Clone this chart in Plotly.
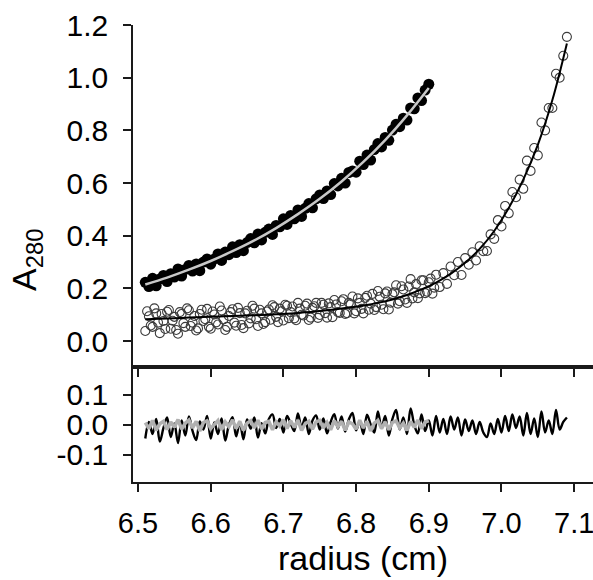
import plotly.graph_objects as go

# filled circles (first sample) and its fit
x_filled = [6.510, 6.515, 6.520, 6.525, 6.530, 6.535, 6.540, 6.545, 6.550, 6.555,
            6.560, 6.565, 6.570, 6.575, 6.580, 6.585, 6.590, 6.595, 6.600, 6.605,
            6.610, 6.615, 6.620, 6.625, 6.630, 6.635, 6.640, 6.645, 6.650, 6.655,
            6.660, 6.665, 6.670, 6.675, 6.680, 6.685, 6.690, 6.695, 6.700, 6.705,
            6.710, 6.715, 6.720, 6.725, 6.730, 6.735, 6.740, 6.745, 6.750, 6.755,
            6.760, 6.765, 6.770, 6.775, 6.780, 6.785, 6.790, 6.795, 6.800, 6.805,
            6.810, 6.815, 6.820, 6.825, 6.830, 6.835, 6.840, 6.845, 6.850, 6.855,
            6.860, 6.865, 6.870, 6.875, 6.880, 6.885, 6.890, 6.895, 6.900]
y_filled = [0.223, 0.207, 0.238, 0.210, 0.236, 0.249, 0.226, 0.256, 0.243, 0.274,
            0.247, 0.272, 0.287, 0.266, 0.293, 0.267, 0.300, 0.312, 0.292, 0.312,
            0.331, 0.306, 0.338, 0.328, 0.358, 0.336, 0.366, 0.343, 0.374, 0.389,
            0.373, 0.406, 0.384, 0.413, 0.425, 0.405, 0.439, 0.434, 0.464, 0.443,
            0.477, 0.464, 0.498, 0.473, 0.504, 0.522, 0.506, 0.540, 0.555, 0.541,
            0.570, 0.556, 0.598, 0.589, 0.618, 0.600, 0.640, 0.646, 0.641, 0.683,
            0.670, 0.706, 0.687, 0.727, 0.750, 0.737, 0.773, 0.762, 0.801, 0.823,
            0.814, 0.846, 0.839, 0.885, 0.882, 0.923, 0.913, 0.953, 0.975]
res_filled = [0.008, -0.012, 0.015, -0.018, 0.004, 0.012, -0.015, 0.010, -0.008, 0.018,
              -0.014, 0.006, 0.016, -0.010, 0.012, -0.020, 0.008, 0.014, -0.012, 0.002,
              0.015, -0.016, 0.010, -0.006, 0.017, -0.012, 0.012, -0.018, 0.006, 0.014,
              -0.010, 0.016, -0.014, 0.008, 0.012, -0.016, 0.010, -0.004, 0.018, -0.012,
              0.014, -0.008, 0.016, -0.018, 0.004, 0.012, -0.014, 0.010, 0.015, -0.010,
              0.008, -0.016, 0.014, -0.006, 0.012, -0.018, 0.010, 0.004, -0.014, 0.016,
              -0.010, 0.012, -0.020, 0.006, 0.015, -0.012, 0.010, -0.016, 0.008, 0.014,
              -0.010, 0.006, -0.018, 0.012, -0.008, 0.016, -0.012, 0.010, 0.014]
fit_filled_x = [6.51, 6.54, 6.57, 6.60, 6.63, 6.66, 6.69, 6.72, 6.75, 6.78, 6.81, 6.84, 6.87, 6.90]
fit_filled_y = [0.215, 0.241, 0.271, 0.304, 0.341, 0.382, 0.429, 0.482, 0.540, 0.606, 0.680, 0.763, 0.857, 0.961]

# open circles (second sample) and its fit
x_open = [6.510, 6.515, 6.520, 6.525, 6.530, 6.535, 6.540, 6.545, 6.550, 6.555,
          6.560, 6.565, 6.570, 6.575, 6.580, 6.585, 6.590, 6.595, 6.600, 6.605,
          6.610, 6.615, 6.620, 6.625, 6.630, 6.635, 6.640, 6.645, 6.650, 6.655,
          6.660, 6.665, 6.670, 6.675, 6.680, 6.685, 6.690, 6.695, 6.700, 6.705,
          6.710, 6.715, 6.720, 6.725, 6.730, 6.735, 6.740, 6.745, 6.750, 6.755,
          6.760, 6.765, 6.770, 6.775, 6.780, 6.785, 6.790, 6.795, 6.800, 6.805,
          6.810, 6.815, 6.820, 6.825, 6.830, 6.835, 6.840, 6.845, 6.850, 6.855,
          6.860, 6.865, 6.870, 6.875, 6.880, 6.885, 6.890, 6.895, 6.900, 6.905,
          6.910, 6.915, 6.920, 6.925, 6.930, 6.935, 6.940, 6.945, 6.950, 6.955,
          6.960, 6.965, 6.970, 6.975, 6.980, 6.985, 6.990, 6.995, 7.000, 7.005,
          7.010, 7.015, 7.020, 7.025, 7.030, 7.035, 7.040, 7.045, 7.050, 7.055,
          7.060, 7.065, 7.070, 7.075, 7.080, 7.085, 7.090]
y_open = [0.038, 0.094, 0.054, 0.105, 0.030, 0.076, 0.111, 0.047, 0.092, 0.028,
          0.103, 0.054, 0.117, 0.070, 0.040, 0.103, 0.076, 0.122, 0.047, 0.101,
          0.063, 0.116, 0.042, 0.095, 0.121, 0.058, 0.106, 0.049, 0.115, 0.086,
          0.123, 0.057, 0.105, 0.072, 0.120, 0.136, 0.092, 0.123, 0.078, 0.134,
          0.110, 0.086, 0.145, 0.100, 0.134, 0.080, 0.126, 0.145, 0.099, 0.138,
          0.089, 0.129, 0.156, 0.110, 0.151, 0.103, 0.145, 0.169, 0.113, 0.145,
          0.105, 0.172, 0.142, 0.118, 0.190, 0.138, 0.181, 0.120, 0.178, 0.212,
          0.151, 0.196, 0.145, 0.235, 0.185, 0.163, 0.231, 0.182, 0.223, 0.180,
          0.252, 0.205, 0.258, 0.217, 0.283, 0.250, 0.300, 0.251, 0.315, 0.290,
          0.337, 0.306, 0.360, 0.341, 0.342, 0.405, 0.388, 0.459, 0.435, 0.513,
          0.485, 0.566, 0.546, 0.613, 0.578, 0.685, 0.646, 0.733, 0.705, 0.830,
          0.800, 0.885, 0.885, 1.015, 1.000, 1.083, 1.155]
# second interleaved scan of the open-circle sample (flat part)
x_open_b = [6.5125, 6.5175, 6.5225, 6.5275, 6.5325, 6.5375, 6.5425, 6.5475, 6.5525, 6.5575,
            6.5625, 6.5675, 6.5725, 6.5775, 6.5825, 6.5875, 6.5925, 6.5975, 6.6025, 6.6075,
            6.6125, 6.6175, 6.6225, 6.6275, 6.6325, 6.6375, 6.6425, 6.6475, 6.6525, 6.6575,
            6.6625, 6.6675, 6.6725, 6.6775, 6.6825, 6.6875, 6.6925, 6.6975, 6.7025, 6.7075,
            6.7125, 6.7175, 6.7225, 6.7275, 6.7325, 6.7375, 6.7425, 6.7475, 6.7525, 6.7575,
            6.7625, 6.7675, 6.7725, 6.7775, 6.7825, 6.7875, 6.7925, 6.7975, 6.8025, 6.8075,
            6.8125, 6.8175, 6.8225, 6.8275, 6.8325, 6.8375, 6.8425, 6.8475, 6.8525, 6.8575,
            6.8625, 6.8675, 6.8725, 6.8775, 6.8825, 6.8875, 6.8925, 6.8975, 6.9025, 6.9075]
y_open_b = [0.113, 0.059, 0.124, 0.070, 0.103, 0.046, 0.118, 0.077, 0.042, 0.110,
            0.068, 0.124, 0.057, 0.095, 0.048, 0.119, 0.083, 0.054, 0.112, 0.071,
            0.131, 0.082, 0.054, 0.110, 0.070, 0.126, 0.061, 0.105, 0.067, 0.134,
            0.083, 0.119, 0.065, 0.112, 0.081, 0.129, 0.072, 0.113, 0.138, 0.087,
            0.131, 0.079, 0.123, 0.097, 0.142, 0.089, 0.132, 0.088, 0.145, 0.106,
            0.143, 0.091, 0.139, 0.107, 0.159, 0.106, 0.140, 0.105, 0.162, 0.122,
            0.164, 0.119, 0.179, 0.129, 0.168, 0.121, 0.188, 0.146, 0.185, 0.142,
            0.208, 0.158, 0.207, 0.162, 0.216, 0.181, 0.231, 0.187, 0.237, 0.203]
res_open = [-0.045, 0.010, -0.030, 0.020, -0.055, -0.010, 0.025, -0.040, 0.005, -0.060,
            0.015, -0.035, 0.028, -0.020, -0.050, 0.012, -0.015, 0.030, -0.045, 0.008,
            -0.030, 0.022, -0.052, 0.000, 0.026, -0.038, 0.010, -0.048, 0.018, -0.012,
            0.025, -0.042, 0.006, -0.028, 0.020, 0.035, -0.010, 0.020, -0.025, 0.030,
            0.005, -0.020, 0.038, -0.008, 0.025, -0.030, 0.015, 0.032, -0.015, 0.022,
            -0.028, 0.010, 0.036, -0.012, 0.028, -0.022, 0.018, 0.040, -0.018, 0.012,
            -0.030, 0.034, 0.002, -0.025, 0.045, -0.010, 0.030, -0.035, 0.020, 0.050,
            -0.015, 0.025, -0.030, 0.055, 0.000, -0.028, 0.035, -0.020, 0.015, -0.035,
            0.030, -0.025, 0.020, -0.030, 0.028, -0.015, 0.025, -0.035, 0.018, -0.020,
            0.015, -0.030, 0.010, -0.025, -0.040, 0.005, -0.030, 0.020, -0.025, 0.030,
            -0.020, 0.035, -0.010, 0.028, -0.035, 0.040, -0.030, 0.022, -0.040, 0.045,
            -0.025, 0.015, -0.030, 0.050, -0.015, 0.010, 0.025]
fit_open_x = [6.51, 6.53, 6.55, 6.57, 6.59, 6.61, 6.63, 6.65, 6.67, 6.69,
              6.71, 6.73, 6.75, 6.77, 6.79, 6.81, 6.83, 6.85, 6.87, 6.89,
              6.91, 6.93, 6.95, 6.97, 6.99, 7.01, 7.03, 7.05, 7.07, 7.09]
fit_open_y = [0.083, 0.085, 0.087, 0.089, 0.091, 0.093, 0.095, 0.097, 0.099, 0.102,
              0.105, 0.109, 0.114, 0.120, 0.127, 0.135, 0.145, 0.158, 0.175, 0.196,
              0.222, 0.255, 0.297, 0.350, 0.418, 0.505, 0.613, 0.745, 0.915, 1.130]

xticks = [6.5, 6.6, 6.7, 6.8, 6.9, 7.0, 7.1]
top_ticks = [0.0, 0.2, 0.4, 0.6, 0.8, 1.0, 1.2]
res_ticks = [-0.1, 0.0, 0.1]

FONT = "Liberation Sans, Arial, sans-serif"
AX = "#1a1a1a"

fig = go.Figure()

open_marker = dict(symbol="circle-open", size=9, color="#3c3c3c", line=dict(width=1.1))
fig.add_trace(go.Scatter(x=x_open_b, y=y_open_b, mode="markers", marker=open_marker,
                         xaxis="x", yaxis="y", showlegend=False))
fig.add_trace(go.Scatter(x=x_open, y=y_open, mode="markers", marker=open_marker,
                         xaxis="x", yaxis="y", showlegend=False))
fig.add_trace(go.Scatter(x=fit_open_x, y=fit_open_y, mode="lines", line=dict(color="black", width=2, shape="spline"),
                         xaxis="x", yaxis="y", showlegend=False))
fig.add_trace(go.Scatter(x=x_filled, y=y_filled, mode="markers",
                         marker=dict(symbol="circle", size=11, color="black"),
                         xaxis="x", yaxis="y", showlegend=False))
fig.add_trace(go.Scatter(x=fit_filled_x, y=fit_filled_y, mode="lines", line=dict(color="#c8c8c8", width=2.5, shape="spline"),
                         xaxis="x", yaxis="y", showlegend=False))

# residuals
fig.add_trace(go.Scatter(x=x_open, y=res_open, mode="lines", line=dict(color="black", width=2.4, shape="spline"),
                         xaxis="x2", yaxis="y2", showlegend=False))
fig.add_trace(go.Scatter(x=x_filled, y=res_filled, mode="lines", line=dict(color="#b0b0b0", width=3.5),
                         xaxis="x2", yaxis="y2", showlegend=False))

xr = [6.4931, 7.1259]
split = 115 / 457

fig.update_layout(
    width=593, height=580,
    margin=dict(l=133, r=0, t=25, b=98),
    paper_bgcolor="white", plot_bgcolor="white",
    font=dict(family=FONT, color="black"),
    xaxis=dict(domain=[0, 1], anchor="y", range=xr, showline=True, linecolor=AX, linewidth=1.5,
               ticks="outside", ticklen=8, tickwidth=1.5, tickcolor=AX, tickvals=xticks,
               showticklabels=False, showgrid=False, zeroline=False),
    yaxis=dict(domain=[split, 1], anchor="x", range=[-0.0985, 1.2], showline=True, linecolor=AX, linewidth=1.5,
               ticks="outside", ticklen=8, tickwidth=1.5, tickcolor=AX, tickvals=top_ticks,
               ticktext=["%.1f" % v for v in top_ticks], tickfont=dict(size=30), ticklabelstandoff=9,
               showgrid=False, zeroline=False),
    xaxis2=dict(domain=[0, 1], anchor="y2", range=xr, showline=True, mirror=True, linecolor=AX, linewidth=1.5,
                ticks="outside", ticklen=8, tickwidth=1.5, tickcolor=AX, tickvals=xticks,
                ticktext=["%.1f" % v for v in xticks], tickfont=dict(size=29), ticklabelstandoff=6,
                ticklabeloverflow="allow",
                title=dict(text="radius (cm)", font=dict(size=34), standoff=0),
                showgrid=False, zeroline=False),
    yaxis2=dict(domain=[0, split], anchor="x2", range=[-0.19, 0.193], showline=True, linecolor=AX, linewidth=1.5,
                ticks="outside", ticklen=8, tickwidth=1.5, tickcolor=AX, tickvals=res_ticks,
                ticktext=["-0.1", "0.0", "0.1"], tickfont=dict(size=30), ticklabelstandoff=9,
                showgrid=False, zeroline=False),
    annotations=[dict(text="A<sub>280</sub>", textangle=-90, xref="paper", yref="paper",
                      x=(26 - 133) / 460, y=(482 - 260) / 457, xanchor="center", yanchor="middle",
                      showarrow=False, font=dict(size=34))],
)

fig.write_html("out.html", config={"displayModeBar": False},
               post_script="document.body.style.margin='0';")
